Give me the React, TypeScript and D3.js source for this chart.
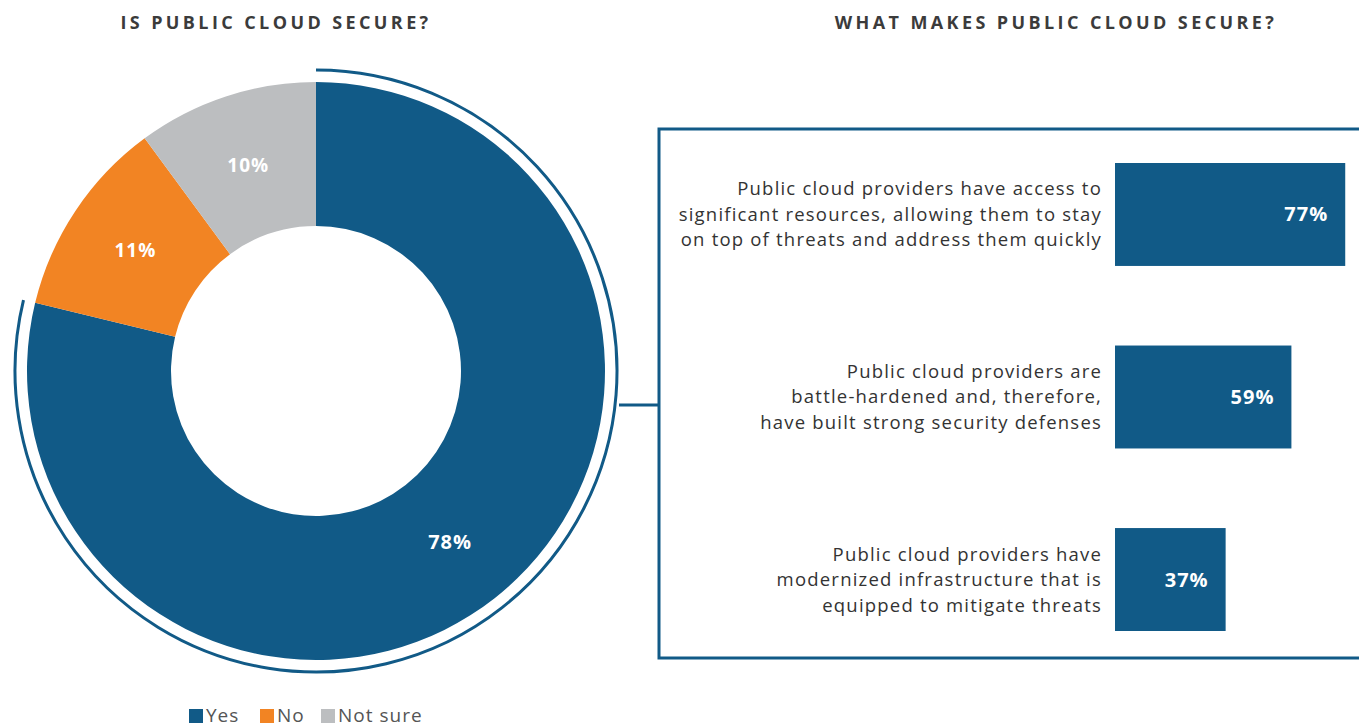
import React from "react";
import * as d3 from "d3";

const pieCategories = ["Yes", "No", "Not sure"];
const pieValues = [78, 11, 10];
const pieColors = ["#115a87", "#f28423", "#bcbec0"];

const barLabels = [
  ["Public cloud providers have access to", "significant resources, allowing them to stay", "on top of threats and address them quickly"],
  ["Public cloud providers are", "battle-hardened and, therefore,", "have built strong security defenses"],
  ["Public cloud providers have", "modernized infrastructure that is", "equipped to mitigate threats"],
];
const barValues = [77, 59, 37];

const BLUE = "#115a87";
const FONT = "'Open Sans', 'DejaVu Sans', sans-serif";

export default function App() {
  const W = 1359, H = 727;
  const cx = 316, cy = 371;
  const outerR = 289, innerR = 145, ringR = 301;

  const pie = d3.pie<number>().sort(null).value((d) => d);
  const arcs = pie(pieValues);
  const arcGen = d3.arc<d3.PieArcDatum<number>>().innerRadius(innerR).outerRadius(outerR);
  const labelArc = d3.arc<d3.PieArcDatum<number>>().innerRadius(217).outerRadius(217);
  const ringArc = d3.arc()({
    innerRadius: ringR,
    outerRadius: ringR,
    startAngle: arcs[0].startAngle,
    endAngle: arcs[0].endAngle,
  } as any);

  const x = d3.scaleLinear().domain([0, 100]).range([1115, 1414]);
  const y = d3.scaleBand<number>().domain([0, 1, 2]).range([163, 631]).paddingInner(0.436).paddingOuter(0);
  const bandTops = barValues.map((_, i) => y(i) as number);
  const bh = y.bandwidth();

  const legendX = [189, 260, 321];

  return (
    <svg width={W} height={H} style={{ position: "absolute", left: 0, top: 0, background: "#fff" }}>
      <text x={276} y={29} textAnchor="middle" fontFamily={FONT} fontWeight={700} fontSize={18} letterSpacing={3.4} fill="#3b3b3b">
        IS PUBLIC CLOUD SECURE?
      </text>
      <text x={1056} y={29} textAnchor="middle" fontFamily={FONT} fontWeight={700} fontSize={18} letterSpacing={3.4} fill="#3b3b3b">
        WHAT MAKES PUBLIC CLOUD SECURE?
      </text>

      <g transform={`translate(${cx},${cy})`}>
        {arcs.map((a, i) => (
          <path key={i} d={arcGen(a) as string} fill={pieColors[i]} />
        ))}
        <path d={ringArc as string} fill="none" stroke={BLUE} strokeWidth={3} />
        {arcs.map((a, i) => {
          const [lx, ly] = labelArc.centroid(a);
          return (
            <text key={i} x={lx} y={ly} dy="0.35em" textAnchor="middle" fontFamily={FONT} fontWeight={700} fontSize={i === 0 ? 20 : 19} letterSpacing={1} fill="#fff">
              {pieValues[i]}%
            </text>
          );
        })}
      </g>

      <line x1={619} y1={405} x2={659} y2={405} stroke={BLUE} strokeWidth={3} />
      <rect x={659} y={129} width={760} height={529} fill="none" stroke={BLUE} strokeWidth={3} />

      {barValues.map((v, i) => (
        <g key={i}>
          <rect x={x(0)} y={bandTops[i]} width={x(v) - x(0)} height={bh} fill={BLUE} />
          <text x={x(v) - 17} y={bandTops[i] + bh / 2} dy="0.35em" textAnchor="end" fontFamily={FONT} fontWeight={700} fontSize={20} letterSpacing={1} fill="#fff">
            {v}%
          </text>
          {barLabels[i].map((line, j) => (
            <text key={j} x={1102} y={bandTops[i] + bh / 2 + (j - 1) * 25.5} dy="0.35em" textAnchor="end" fontFamily={FONT} fontSize={18.5} letterSpacing={1.2} fill="#333">
              {line}
            </text>
          ))}
        </g>
      ))}

      {pieCategories.map((c, i) => (
        <g key={c}>
          <rect x={legendX[i]} y={709} width={14} height={14} fill={pieColors[i]} />
          <text x={legendX[i] + 17} y={722} fontFamily={FONT} fontSize={19} letterSpacing={1} fill="#555">
            {c}
          </text>
        </g>
      ))}
    </svg>
  );
}
